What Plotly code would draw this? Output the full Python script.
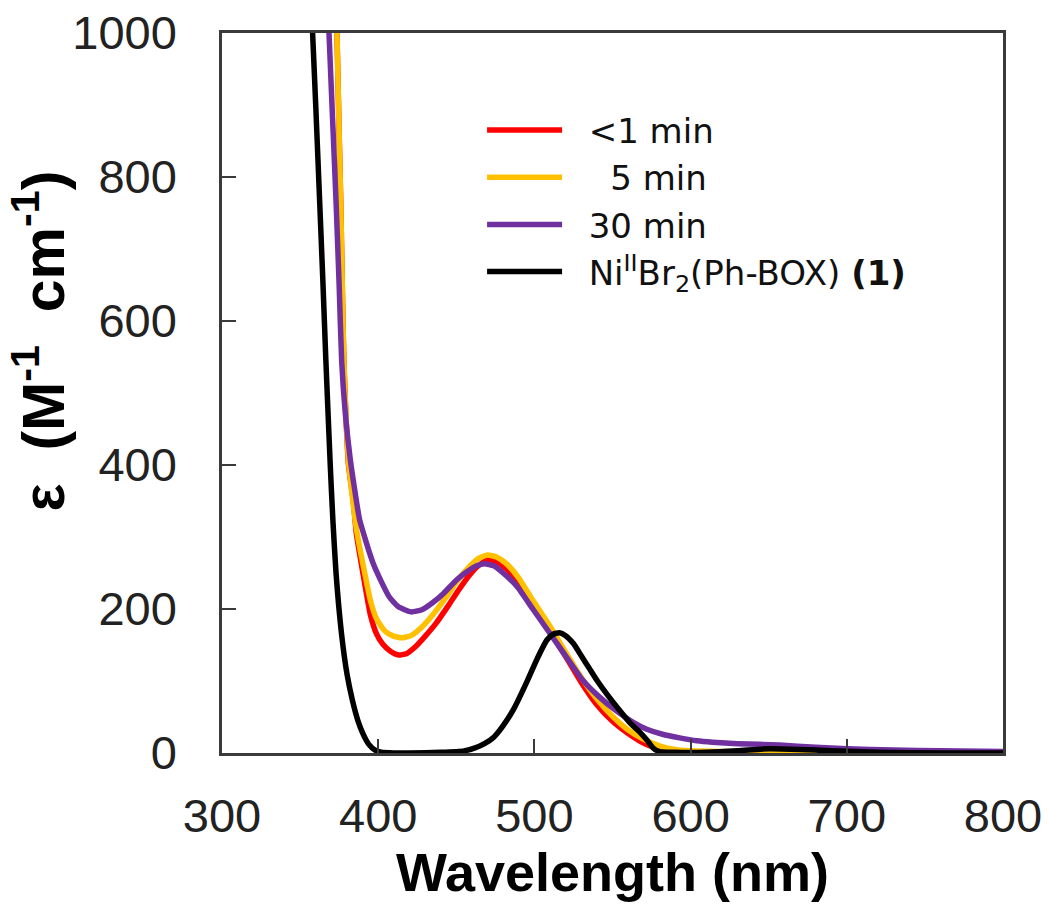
import plotly.graph_objects as go

# ---- data ----
wl_red = [372.5, 373.6, 374.8, 376, 377, 378, 379.5, 381, 384, 386, 388, 391, 395, 399, 403, 408, 413, 418, 424, 430,
          437, 445, 452, 458, 464, 470, 476, 482, 490, 499, 510, 520, 530, 540, 550, 560, 568, 576, 585, 595,
          610, 630, 650, 670, 700, 750, 800]
eps_red = [1100, 1000, 880, 767, 650, 545, 460, 400, 351, 305, 278, 240, 192, 165, 151, 141, 136, 138, 148, 162,
           180, 205, 228, 246, 260, 268, 265, 256, 236, 205, 168, 134, 98, 67, 44, 27, 16, 8, 3, 1,
           0, -2, -3, -1, 0, 0, 0]

wl_yellow = [372.5, 373.6, 374.8, 376, 377, 378, 379.5, 381, 384, 386, 388, 391, 395, 399, 404, 409, 415, 421, 428, 435,
             443, 451, 458, 464, 470, 476, 482, 490, 499, 510, 520, 530, 540, 550, 560, 570, 580, 590, 600, 620,
             650, 680, 720, 760, 800]
eps_yellow = [1100, 1000, 880, 767, 650, 545, 462, 405, 345, 312, 287, 254, 212, 186, 170, 163, 160, 163, 175, 192,
              215, 240, 258, 270, 275, 272, 263, 243, 212, 176, 140, 105, 75, 51, 32, 19, 10, 5, 3, 2,
              1, 1, 1, 1, 0]

wl_purple = [366, 368.5, 371, 373, 375, 376.6, 379, 382, 385, 388, 392, 397, 402, 407, 413, 421, 428, 435, 442, 450,
             457, 463, 468, 474, 480, 489, 499, 510, 520, 531, 541, 551, 563, 572, 582, 593, 604, 614, 630, 657,
             680, 700, 730, 760, 800]
eps_purple = [1130, 1000, 870, 767, 650, 545, 470, 410, 365, 325, 295, 262, 238, 217, 203, 196, 199, 209, 222, 240,
              252, 260, 263, 260, 250, 231, 200, 166, 135, 101, 79, 61, 43, 33, 26, 21, 17, 15, 13, 11,
              8, 6, 4, 3, 2]

wl_black = [356, 358, 360, 362.5, 364.5, 366.5, 369.3, 371, 373, 376.5, 380, 383.5, 387, 390, 394, 398, 402, 410, 420, 440,
            455, 462, 468, 474, 480, 487, 495, 502, 508, 512, 516, 520, 525, 530, 535, 540, 547, 555, 562, 567,
            572, 576, 580, 590, 610, 630, 650, 670, 690, 720, 760, 800]
eps_black = [1100, 1000, 900, 767, 660, 545, 400, 323, 250, 166, 110, 73, 45, 28, 12, 4, 1, 0, 0, 1,
             3, 7, 13, 22, 38, 62, 98, 132, 157, 165, 167, 163, 152, 135, 118, 101, 80, 58, 40, 30,
             18, 7, 2, 1, 1, 3, 6, 5, 3, 1, 0, 0]

NB = "\u00a0"
series = [
    (NB * 2 + "<1 min", wl_red, eps_red, "#ff0000"),
    (NB * 4 + "5 min", wl_yellow, eps_yellow, "#ffc000"),
    (NB * 2 + "30 min", wl_purple, eps_purple, "#7030a0"),
    (NB * 2 + "Ni<sup>II</sup>Br<sub>2</sub>(Ph-BOX) <b>(1)</b>", wl_black, eps_black, "#000000"),
]

x_ticks = [300, 400, 500, 600, 700, 800]
y_ticks = [0, 200, 400, 600, 800, 1000]

FONT = "Arial, 'Liberation Sans', sans-serif"
LEGEND_FONT = "'DejaVu Sans', Arial, sans-serif"

fig = go.Figure()
for i, (name, xs, ys, col) in enumerate(series):
    fig.add_trace(go.Scatter(
        x=xs, y=ys, name=name, mode="lines", legendgroup=f"g{i}",
        line=dict(color=col, width=5.5, shape="spline", smoothing=0.5),
    ))

axis_common = dict(
    showgrid=False, zeroline=False, showline=True, linecolor="#3a3a3a", linewidth=2.5,
    mirror=True, ticks="inside", ticklen=14, tickwidth=2, tickcolor="#3a3a3a",
    tickfont=dict(family=FONT, size=47, color="#222222"), automargin=False,
    ticklabeloverflow="allow",
)

# the page adds a small body margin, so the figure is slightly smaller than the window
fig.update_layout(
    width=1042, height=907,
    margin=dict(l=214, r=47, t=25, b=162, pad=0),
    paper_bgcolor="white", plot_bgcolor="white",
    font=dict(family=FONT, color="#000000"),
    xaxis=dict(range=[300, 800], tickvals=x_ticks, ticklabelstandoff=20,
               title=dict(text="<b>Wavelength (nm)</b>", font=dict(family=FONT, size=54, color="#000"),
                          standoff=8),
               **axis_common),
    yaxis=dict(range=[0, 1000], tickvals=y_ticks, ticklabelstandoff=33, **axis_common),
    legend=dict(x=0.333, y=0.905, xanchor="left", yanchor="top", bgcolor="rgba(0,0,0,0)",
                font=dict(family=LEGEND_FONT, size=34, color="#111"), tracegroupgap=0, itemwidth=75),
    showlegend=True,
)

fig.add_annotation(
    text="<b>ε  (M<sup>-1</sup>  cm<sup>-1</sup>)</b>", textangle=-90,
    xref="paper", yref="paper", x=-0.234, y=0.572, xanchor="center", yanchor="middle",
    showarrow=False, font=dict(family=FONT, size=59, color="#000"),
)

fig.write_html("out.html")
